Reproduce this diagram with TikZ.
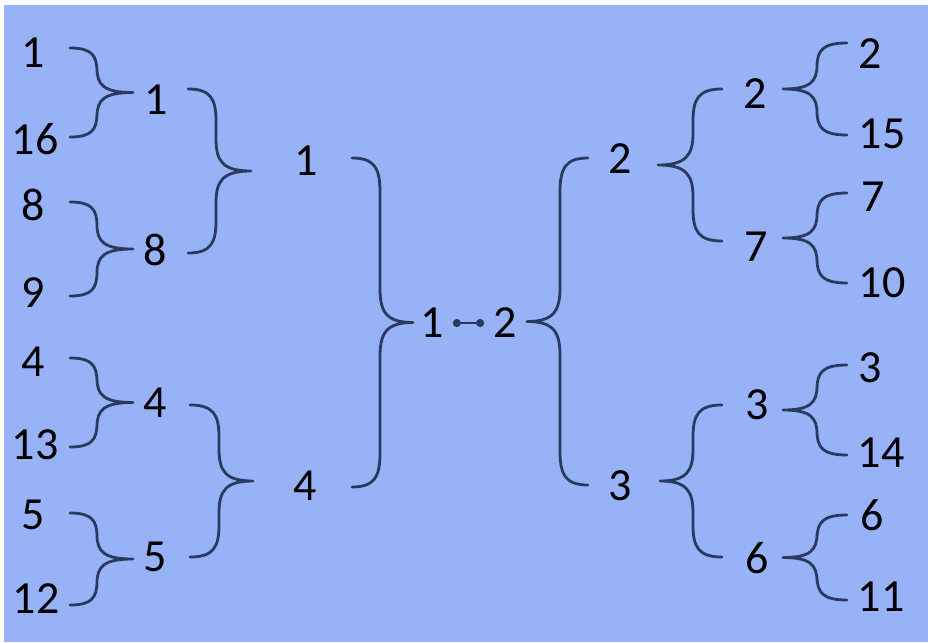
\documentclass[tikz,border=0pt]{standalone}
\usepackage{fontspec}
\setmainfont{Carlito}
\usetikzlibrary{arrows.meta}
\definecolor{bgblue}{RGB}{151,178,247}
\definecolor{brkcol}{RGB}{42,58,94}
% 花括号: 端点x, 竖线x, 尖点x, 上y, 下y, 弯曲半径
\newcommand{\drawbrace}[6]{%
  \draw[brline] (#1,#4) .. controls ({#1+0.8*(#2-#1)},#4) and (#2,{#4+0.3*#6}) .. (#2,{#4+#6})
    -- (#2,{(#4+#5)/2-#6}) .. controls (#2,{(#4+#5)/2-0.3*#6}) and ({#2+0.2*(#3-#2)},{(#4+#5)/2}) .. (#3,{(#4+#5)/2})
    .. controls ({#2+0.2*(#3-#2)},{(#4+#5)/2}) and (#2,{(#4+#5)/2+0.3*#6}) .. (#2,{(#4+#5)/2+#6})
    -- (#2,{#5-#6}) .. controls (#2,{#5-0.3*#6}) and ({#1+0.8*(#2-#1)},#5) .. (#1,#5);}
\begin{document}
\begin{tikzpicture}[x=1pt, y=-1pt,
    brline/.style={brkcol, line width=2.8pt, line cap=round, line join=round},
    num/.style={font=\fontsize{46}{46}\selectfont, inner sep=0pt}]
    % 背景
    \fill[white] (0,0) rectangle (928,642);
    \fill[bgblue] (4,5) rectangle (928,642);
    % 左侧第一轮
    \node[num] (l1) at (33,53) {1};
    \node[num] (l2) at (35,139) {16};
    \node[num] (l3) at (33,205) {8};
    \node[num] (l4) at (33,293) {9};
    \node[num] (l5) at (33,362) {4};
    \node[num] (l6) at (35,445) {13};
    \node[num] (l7) at (33,515) {5};
    \node[num] (l8) at (36,599) {12};
    \drawbrace{70}{97}{133}{48}{137}{24}
    \drawbrace{70}{97}{133}{202}{296}{24}
    \drawbrace{70}{97}{133}{358}{447}{24}
    \drawbrace{70}{97}{133}{513}{605}{24}
    % 左侧第二轮
    \node[num] (lq1) at (156,100) {1};
    \node[num] (lq2) at (155,250) {8};
    \node[num] (lq3) at (155,403) {4};
    \node[num] (lq4) at (155,557) {5};
    \drawbrace{188}{216}{251}{89}{253}{32}
    \drawbrace{190}{219}{253}{405}{557}{32}
    % 左侧半决赛
    \node[num] (ls1) at (306,161) {1};
    \node[num] (ls2) at (305,486) {4};
    \drawbrace{352}{380}{413}{158}{487}{34}
    % 决赛
    \node[num] (m1) at (432,323) {1};
    \node[num] (m2) at (505,323) {2};
    \draw[{Circle[length=8pt]}-{Circle[length=8pt]}, brkcol, line width=2.2pt,
      shorten <=9pt, shorten >=9pt] (m1.east) -- (m2.west);
    % 右侧半决赛
    \drawbrace{588}{560}{527}{158}{485}{34}
    \node[num] (rs1) at (620,159) {2};
    \node[num] (rs2) at (620,486) {3};
    % 右侧第二轮
    \drawbrace{722}{693}{658}{89}{241}{32}
    \drawbrace{722}{693}{660}{405}{557}{32}
    \node[num] (rq1) at (755,94) {2};
    \node[num] (rq2) at (756,247) {7};
    \node[num] (rq3) at (757,405) {3};
    \node[num] (rq4) at (757,558) {6};
    % 右侧第一轮
    \drawbrace{847}{817}{783}{43}{135}{24}
    \drawbrace{847}{817}{783}{193}{283}{24}
    \drawbrace{847}{817}{783}{365}{455}{24}
    \drawbrace{847}{817}{783}{515}{600}{24}
    \node[num] (r1) at (870,54) {2};
    \node[num] (r2) at (882,134) {15};
    \node[num] (r3) at (873,197) {7};
    \node[num] (r4) at (882,283) {10};
    \node[num] (r5) at (870,368) {3};
    \node[num] (r6) at (881,453) {14};
    \node[num] (r7) at (872,515) {6};
    \node[num] (r8) at (881,597) {11};
\end{tikzpicture}
\end{document}
